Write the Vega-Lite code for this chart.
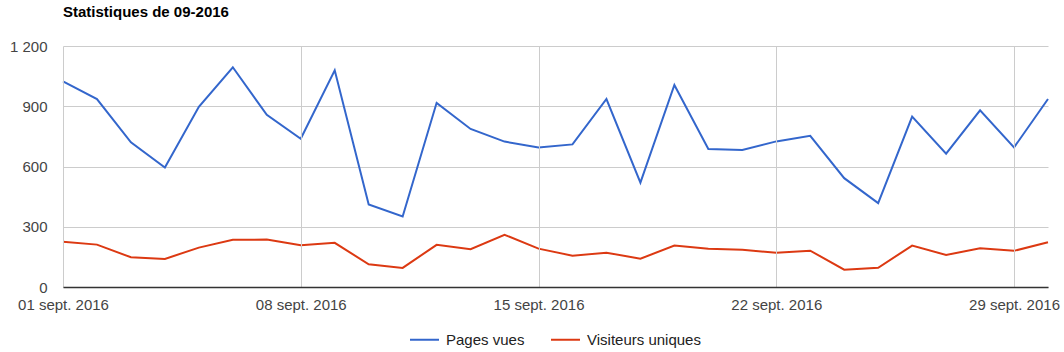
{
  "$schema": "https://vega.github.io/schema/vega-lite/v6.json",
  "autosize": "none",
  "width": 985,
  "height": 241,
  "padding": {"left": 63, "top": 46, "right": 16, "bottom": 65},
  "background": "white",
  "title": {
    "text": "Statistiques de 09-2016",
    "anchor": "start",
    "frame": "group",
    "font": "Liberation Sans",
    "fontSize": 15,
    "fontWeight": "bold",
    "color": "#000000",
    "offset": 19
  },
  "config": {
    "view": {"stroke": null},
    "font": "Liberation Sans"
  },
  "data": {
    "values": [
      {"date": "2016-09-01T00:00:00", "series": "Pages vues", "value": 1024},
      {"date": "2016-09-02T00:00:00", "series": "Pages vues", "value": 936},
      {"date": "2016-09-03T00:00:00", "series": "Pages vues", "value": 720},
      {"date": "2016-09-04T00:00:00", "series": "Pages vues", "value": 595},
      {"date": "2016-09-05T00:00:00", "series": "Pages vues", "value": 897},
      {"date": "2016-09-06T00:00:00", "series": "Pages vues", "value": 1094},
      {"date": "2016-09-07T00:00:00", "series": "Pages vues", "value": 857},
      {"date": "2016-09-08T00:00:00", "series": "Pages vues", "value": 738},
      {"date": "2016-09-09T00:00:00", "series": "Pages vues", "value": 1079},
      {"date": "2016-09-10T00:00:00", "series": "Pages vues", "value": 411},
      {"date": "2016-09-11T00:00:00", "series": "Pages vues", "value": 351},
      {"date": "2016-09-12T00:00:00", "series": "Pages vues", "value": 917},
      {"date": "2016-09-13T00:00:00", "series": "Pages vues", "value": 787},
      {"date": "2016-09-14T00:00:00", "series": "Pages vues", "value": 724},
      {"date": "2016-09-15T00:00:00", "series": "Pages vues", "value": 695},
      {"date": "2016-09-16T00:00:00", "series": "Pages vues", "value": 710},
      {"date": "2016-09-17T00:00:00", "series": "Pages vues", "value": 936},
      {"date": "2016-09-18T00:00:00", "series": "Pages vues", "value": 520},
      {"date": "2016-09-19T00:00:00", "series": "Pages vues", "value": 1006},
      {"date": "2016-09-20T00:00:00", "series": "Pages vues", "value": 687},
      {"date": "2016-09-21T00:00:00", "series": "Pages vues", "value": 682},
      {"date": "2016-09-22T00:00:00", "series": "Pages vues", "value": 725},
      {"date": "2016-09-23T00:00:00", "series": "Pages vues", "value": 753},
      {"date": "2016-09-24T00:00:00", "series": "Pages vues", "value": 542},
      {"date": "2016-09-25T00:00:00", "series": "Pages vues", "value": 418},
      {"date": "2016-09-26T00:00:00", "series": "Pages vues", "value": 848},
      {"date": "2016-09-27T00:00:00", "series": "Pages vues", "value": 664},
      {"date": "2016-09-28T00:00:00", "series": "Pages vues", "value": 880},
      {"date": "2016-09-29T00:00:00", "series": "Pages vues", "value": 695},
      {"date": "2016-09-30T00:00:00", "series": "Pages vues", "value": 936},
      {"date": "2016-09-01T00:00:00", "series": "Visiteurs uniques", "value": 225},
      {"date": "2016-09-02T00:00:00", "series": "Visiteurs uniques", "value": 211},
      {"date": "2016-09-03T00:00:00", "series": "Visiteurs uniques", "value": 148},
      {"date": "2016-09-04T00:00:00", "series": "Visiteurs uniques", "value": 140},
      {"date": "2016-09-05T00:00:00", "series": "Visiteurs uniques", "value": 196},
      {"date": "2016-09-06T00:00:00", "series": "Visiteurs uniques", "value": 235},
      {"date": "2016-09-07T00:00:00", "series": "Visiteurs uniques", "value": 236},
      {"date": "2016-09-08T00:00:00", "series": "Visiteurs uniques", "value": 208},
      {"date": "2016-09-09T00:00:00", "series": "Visiteurs uniques", "value": 220},
      {"date": "2016-09-10T00:00:00", "series": "Visiteurs uniques", "value": 113},
      {"date": "2016-09-11T00:00:00", "series": "Visiteurs uniques", "value": 95},
      {"date": "2016-09-12T00:00:00", "series": "Visiteurs uniques", "value": 210},
      {"date": "2016-09-13T00:00:00", "series": "Visiteurs uniques", "value": 188},
      {"date": "2016-09-14T00:00:00", "series": "Visiteurs uniques", "value": 260},
      {"date": "2016-09-15T00:00:00", "series": "Visiteurs uniques", "value": 191},
      {"date": "2016-09-16T00:00:00", "series": "Visiteurs uniques", "value": 156},
      {"date": "2016-09-17T00:00:00", "series": "Visiteurs uniques", "value": 171},
      {"date": "2016-09-18T00:00:00", "series": "Visiteurs uniques", "value": 141},
      {"date": "2016-09-19T00:00:00", "series": "Visiteurs uniques", "value": 206},
      {"date": "2016-09-20T00:00:00", "series": "Visiteurs uniques", "value": 190},
      {"date": "2016-09-21T00:00:00", "series": "Visiteurs uniques", "value": 185},
      {"date": "2016-09-22T00:00:00", "series": "Visiteurs uniques", "value": 171},
      {"date": "2016-09-23T00:00:00", "series": "Visiteurs uniques", "value": 181},
      {"date": "2016-09-24T00:00:00", "series": "Visiteurs uniques", "value": 86},
      {"date": "2016-09-25T00:00:00", "series": "Visiteurs uniques", "value": 96},
      {"date": "2016-09-26T00:00:00", "series": "Visiteurs uniques", "value": 206},
      {"date": "2016-09-27T00:00:00", "series": "Visiteurs uniques", "value": 160},
      {"date": "2016-09-28T00:00:00", "series": "Visiteurs uniques", "value": 193},
      {"date": "2016-09-29T00:00:00", "series": "Visiteurs uniques", "value": 180},
      {"date": "2016-09-30T00:00:00", "series": "Visiteurs uniques", "value": 223}
    ]
  },
  "mark": {"type": "line", "strokeWidth": 2, "clip": false},
  "encoding": {
    "x": {
      "field": "date",
      "type": "temporal",
      "scale": {"domain": [{"year": 2016, "month": 9, "date": 1}, {"year": 2016, "month": 9, "date": 30}]},
      "axis": {
        "title": null,
        "values": [
          {"year": 2016, "month": 9, "date": 1},
          {"year": 2016, "month": 9, "date": 8},
          {"year": 2016, "month": 9, "date": 15},
          {"year": 2016, "month": 9, "date": 22},
          {"year": 2016, "month": 9, "date": 29}
        ],
        "format": "%d sept. %Y",
        "labelFont": "Liberation Sans",
        "labelFontSize": 15,
        "labelColor": "#444444",
        "labelPadding": 10,
        "labelFlush": false,
        "labelOverlap": false,
        "ticks": false,
        "grid": true,
        "gridColor": "#cccccc",
        "gridWidth": 1,
        "domain": true,
        "domainColor": "#333333",
        "domainWidth": 1.5,
        "zindex": 1
      }
    },
    "y": {
      "field": "value",
      "type": "quantitative",
      "scale": {"domain": [0, 1200], "nice": false},
      "axis": {
        "title": null,
        "values": [0, 300, 600, 900, 1200],
        "labelExpr": "replace(format(datum.value, ','), ',', ' ')",
        "labelFont": "Liberation Sans",
        "labelFontSize": 15,
        "labelColor": "#444444",
        "labelPadding": 16,
        "ticks": false,
        "domain": false,
        "grid": true,
        "gridColor": "#cccccc",
        "gridWidth": 1
      }
    },
    "color": {
      "field": "series",
      "type": "nominal",
      "scale": {"domain": ["Pages vues", "Visiteurs uniques"], "range": ["#3366cc", "#dc3912"]},
      "legend": {
        "title": null,
        "orient": "none",
        "direction": "horizontal",
        "legendX": 346,
        "legendY": 278,
        "symbolType": "stroke",
        "symbolStrokeWidth": 2,
        "symbolSize": 841,
        "labelFont": "Liberation Sans",
        "labelFontSize": 15,
        "labelColor": "#222222",
        "labelOffset": 6,
        "columnPadding": 22
      }
    }
  }
}
